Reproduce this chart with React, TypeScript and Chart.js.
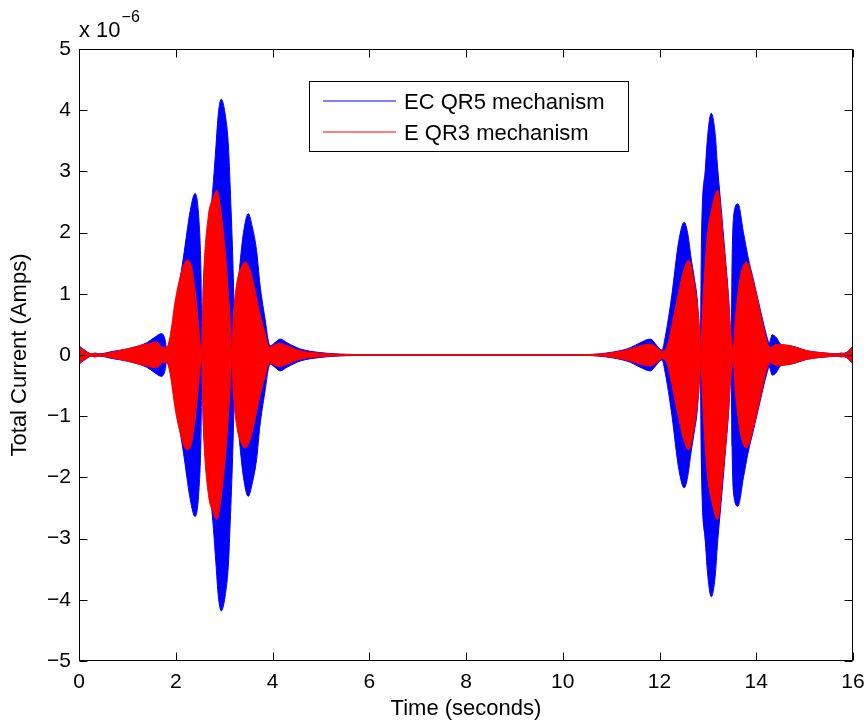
import React, { useEffect, useRef } from "react";
import { Chart, registerables } from "chart.js";

Chart.register(...registerables);

// Envelope amplitude of the oscillating current (units of 1e-6 A)
const blueTimes = [
  0, 0.1, 0.26, 0.33, 0.43, 0.7, 1.0, 1.4, 1.55, 1.71, 1.78, 1.81, 1.88, 1.99, 2.09, 2.16, 2.3, 2.4,
  2.48, 2.52, 2.545, 2.57, 2.65, 2.72, 2.78, 2.83, 2.88, 2.94, 3.02, 3.09, 3.12, 3.17, 3.19, 3.21,
  3.225, 3.25, 3.32, 3.4, 3.5, 3.58, 3.67, 3.74, 3.84, 3.95, 4.05, 4.16, 4.3, 4.57, 4.98, 5.4, 6.0,
  8.0, 10.4, 11.05, 11.4, 11.6, 11.81, 11.95, 12.05, 12.12, 12.25, 12.4, 12.51, 12.58, 12.65, 12.72,
  12.78, 12.82, 12.84, 12.87, 12.95, 13.0, 13.07, 13.15, 13.2, 13.26, 13.36, 13.43, 13.48, 13.5,
  13.53, 13.62, 13.74, 13.83, 13.95, 14.09, 14.22, 14.27, 14.33, 14.42, 14.5, 14.71, 15.05, 15.46,
  15.67, 15.75, 15.81, 15.9, 16.0,
];
const blueAmps = [
  0.15, 0.09, 0.02, 0.03, 0.02, 0.06, 0.1, 0.2, 0.28, 0.35, 0.25, 0.12, 0.25, 0.8, 1.25, 1.6, 2.36, 2.64,
  2.2, 1.4, 0.1, 1.1, 1.7, 2.3, 2.85, 3.4, 3.94, 4.18, 3.94, 3.4, 2.85, 1.8, 1.27, 0.6,
  0.1, 0.8, 1.43, 2.0, 2.31, 2.1, 1.71, 1.16, 0.62, 0.15, 0.2, 0.26, 0.2, 0.1, 0.04, 0.015, 0.006,
  0.004, 0.005, 0.05, 0.12, 0.2, 0.26, 0.15, 0.08, 0.3, 0.95, 1.87, 2.17, 2.0, 1.6, 1.25,
  0.9, 0.4, 0.1, 1.98, 3.07, 3.62, 3.95, 3.62, 3.07, 2.53, 1.6, 0.9, 0.1, 1.5,
  2.25, 2.47, 1.98, 1.6, 1.2, 0.72, 0.3, 0.2, 0.33, 0.28, 0.18, 0.15, 0.07, 0.03,
  0.02, 0.03, 0.03, 0.06, 0.15,
];

const redTimes = [
  0, 0.1, 0.26, 0.33, 0.43, 0.7, 1.0, 1.4, 1.6, 1.74, 1.81, 1.88, 1.99, 2.09, 2.19, 2.25, 2.33, 2.4,
  2.47, 2.51, 2.535, 2.57, 2.67, 2.78, 2.85, 2.95, 3.05, 3.12, 3.16, 3.19, 3.26, 3.37, 3.43, 3.54,
  3.64, 3.74, 3.85, 3.94, 4.05, 4.16, 4.3, 4.57, 4.98, 5.4, 6.0, 8.0, 10.4, 11.05, 11.4, 11.6, 11.81,
  11.95, 12.05, 12.16, 12.26, 12.36, 12.5, 12.6, 12.71, 12.81, 12.86, 12.87, 12.98, 13.09, 13.2,
  13.32, 13.43, 13.52, 13.57, 13.67, 13.8, 13.95, 14.09, 14.22, 14.29, 14.4, 14.5, 14.71, 15.05,
  15.46, 15.67, 15.75, 15.81, 15.9, 16.0,
];
const redAmps = [
  0.14, 0.08, 0.02, 0.03, 0.015, 0.05, 0.1, 0.18, 0.21, 0.12, 0.12, 0.29, 0.89, 1.27, 1.52, 1.55, 1.43, 1.05,
  0.51, 0.15, 0.08, 1.16, 2.25, 2.58, 2.69, 2.25, 1.43, 0.62, 0.1, 0.62, 1.16, 1.46, 1.52, 1.38,
  1.05, 0.67, 0.34, 0.13, 0.17, 0.19, 0.15, 0.07, 0.03, 0.01, 0.005, 0.004, 0.004, 0.04, 0.1, 0.15, 0.18,
  0.12, 0.06, 0.15, 0.5, 0.89, 1.38, 1.55, 1.22, 0.62, 0.08, 0.34, 1.87, 2.42, 2.69,
  1.87, 0.89, 0.08, 0.62, 1.27, 1.52, 1.16, 0.67, 0.23, 0.12, 0.17, 0.17, 0.15, 0.07,
  0.03, 0.015, 0.03, 0.02, 0.06, 0.14,
];

const seriesLabels = ["EC QR5 mechanism", "E QR3 mechanism"];
const seriesColors = ["#0000ff", "#ff0000"];
const xTicks = [0, 2, 4, 6, 8, 10, 12, 14, 16];
const yTicks = [-5, -4, -3, -2, -1, 0, 1, 2, 3, 4, 5];
const xTitle = "Time (seconds)";
const yTitle = "Total Current (Amps)";

const FONT = "'Liberation Sans', Arial, Helvetica, sans-serif";

const decorPlugin = {
  id: "decor",
  afterDraw(chart: any) {
    const { ctx, chartArea } = chart;
    const { left, right, top, bottom } = chartArea;
    const xs = chart.scales.x;
    const ys = chart.scales.y;
    ctx.save();
    ctx.strokeStyle = "#000";
    ctx.lineWidth = 1;
    const L = Math.round(left) + 0.5;
    const R = Math.round(right) - 0.5;
    const T = Math.round(top) + 0.5;
    const B = Math.round(bottom) - 0.5;
    ctx.beginPath();
    ctx.rect(L, T, R - L, B - T);
    ctx.stroke();
    const tl = 8;
    ctx.beginPath();
    xTicks.forEach((v) => {
      const px = Math.round(xs.getPixelForValue(v)) + 0.5;
      ctx.moveTo(px, B);
      ctx.lineTo(px, B - tl);
      ctx.moveTo(px, T);
      ctx.lineTo(px, T + tl);
    });
    yTicks.forEach((v) => {
      const py = Math.round(ys.getPixelForValue(v)) + 0.5;
      ctx.moveTo(L, py);
      ctx.lineTo(L + tl, py);
      ctx.moveTo(R, py);
      ctx.lineTo(R - tl, py);
    });
    ctx.stroke();

    // exponent label
    ctx.fillStyle = "#000";
    ctx.textBaseline = "alphabetic";
    ctx.textAlign = "left";
    ctx.font = `22px ${FONT}`;
    ctx.fillText("x 10", left, 37);
    const w = ctx.measureText("x 10").width;
    ctx.font = `16px ${FONT}`;
    ctx.fillText("\u22126", left + w + 1, 22);

    // axis titles
    ctx.font = `22px ${FONT}`;
    ctx.textAlign = "center";
    ctx.textBaseline = "middle";
    ctx.fillText(xTitle, (left + right) / 2, 709);
    ctx.save();
    ctx.translate(20, (top + bottom) / 2);
    ctx.rotate(-Math.PI / 2);
    ctx.fillText(yTitle, 0, 0);
    ctx.restore();

    // legend
    const bx = 309.5, by = 81.5, bw = 319, bh = 70;
    ctx.fillStyle = "#fff";
    ctx.fillRect(bx, by, bw, bh);
    ctx.strokeStyle = "#000";
    ctx.strokeRect(bx, by, bw, bh);
    const rows = [101, 132];
    seriesLabels.forEach((lab, i) => {
      ctx.strokeStyle = seriesColors[i];
      ctx.lineWidth = 1.2;
      ctx.beginPath();
      ctx.moveTo(323, rows[i]);
      ctx.lineTo(396, rows[i]);
      ctx.stroke();
      ctx.fillStyle = "#000";
      ctx.textAlign = "left";
      ctx.textBaseline = "middle";
      ctx.font = `22px ${FONT}`;
      ctx.fillText(lab, 404, rows[i] + 1.5);
    });
    ctx.restore();
  },
};

function makeSet(times: number[], amps: number[], sign: number, label: string, color: string, order: number) {
  return {
    label,
    data: times.map((t, i) => ({ x: t, y: sign * amps[i] })),
    borderColor: color,
    backgroundColor: color,
    borderWidth: 1,
    pointRadius: 0,
    fill: "origin",
    order,
    cubicInterpolationMode: "monotone",
  };
}

export default function App() {
  const ref = useRef<HTMLCanvasElement>(null);
  useEffect(() => {
    if (!ref.current) return;
    const tickFont = { family: FONT, size: 21 };
    const chart = new Chart(ref.current, {
      type: "line",
      data: {
        datasets: [
          makeSet(blueTimes, blueAmps, 1, seriesLabels[0], seriesColors[0], 1),
          makeSet(blueTimes, blueAmps, -1, seriesLabels[0] + " (lower)", seriesColors[0], 1),
          makeSet(redTimes, redAmps, 1, seriesLabels[1], seriesColors[1], 0),
          makeSet(redTimes, redAmps, -1, seriesLabels[1] + " (lower)", seriesColors[1], 0),
        ] as any,
      },
      options: {
        responsive: false,
        animation: false,
        events: [],
        layout: { padding: { top: 49, right: 15, left: 0, bottom: 0 } },
        plugins: { legend: { display: false }, tooltip: { enabled: false } },
        scales: {
          x: {
            type: "linear",
            min: 0,
            max: 16,
            afterBuildTicks: (s: any) => {
              s.ticks = xTicks.map((v) => ({ value: v }));
            },
            afterFit: (s: any) => {
              s.height = 59;
              s.paddingLeft = 0;
              s.paddingRight = 0;
            },
            grid: { display: false, drawTicks: false },
            border: { display: false },
            ticks: { font: tickFont, color: "#000", padding: 9, maxRotation: 0, autoSkip: false },
          },
          y: {
            type: "linear",
            min: -5,
            max: 5,
            afterBuildTicks: (s: any) => {
              s.ticks = yTicks.map((v) => ({ value: v }));
            },
            afterFit: (s: any) => {
              s.width = 79;
              s.paddingTop = 0;
              s.paddingBottom = 0;
            },
            grid: { display: false, drawTicks: false },
            border: { display: false },
            ticks: {
              font: tickFont,
              color: "#000",
              padding: 8,
              autoSkip: false,
              callback: (v: any) => (v < 0 ? "\u2212" + Math.abs(v) : String(v)),
            },
          },
        },
      } as any,
      plugins: [decorPlugin],
    });
    return () => chart.destroy();
  }, []);
  return (
    <div style={{ position: "fixed", left: 0, top: 0, width: 868, height: 720, background: "#fff" }}>
      <canvas ref={ref} width={868} height={720} style={{ width: 868, height: 720, display: "block" }} />
    </div>
  );
}
